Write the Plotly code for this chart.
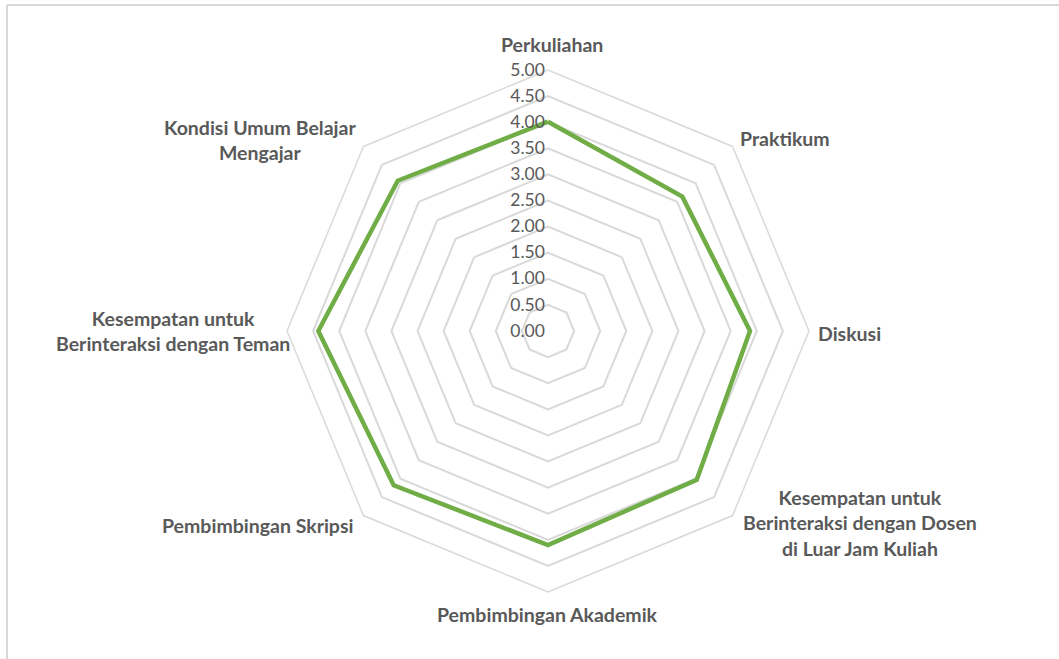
import plotly.graph_objects as go

categories = [
    "Perkuliahan",
    "Praktikum",
    "Diskusi",
    "Kesempatan untuk<br>Berinteraksi dengan Dosen<br>di Luar Jam Kuliah",
    "Pembimbingan Akademik",
    "Pembimbingan Skripsi",
    "Kesempatan untuk<br>Berinteraksi dengan Teman",
    "Kondisi Umum Belajar<br>Mengajar",
]
values = [4.01, 3.64, 3.87, 4.03, 4.10, 4.18, 4.40, 4.07]

W, H = 1059, 659
cx, cy, R = 548, 331, 261

# label centres (pixels) for the category names
label_pos = [(552, 44), (785, 138), (849, 333), (860, 523),
             (547, 614), (258, 525), (173, 331), (260, 140)]

fig = go.Figure()
fig.add_trace(go.Scatterpolar(
    r=values + values[:1],
    theta=categories + categories[:1],
    mode="lines",
    line=dict(color="#70AD47", width=4.5),
    hoverinfo="skip",
    showlegend=False,
))

grid = "#D9D9D9"
annotations = []
for name, (px, py) in zip(categories, label_pos):
    annotations.append(dict(
        text=name, x=px / W, y=1 - py / H, xref="paper", yref="paper",
        xanchor="center", yanchor="middle", align="center", showarrow=False,
        font=dict(family="Lato, sans-serif", size=19.5, color="#595959", weight="bold"),
    ))

fig.update_layout(
    width=W, height=H,
    margin=dict(l=0, r=0, t=0, b=0),
    paper_bgcolor="white",
    plot_bgcolor="white",
    font=dict(family="Lato, sans-serif", color="#595959"),
    polar=dict(
        domain=dict(x=[(cx - R) / W, (cx + R) / W], y=[(H - cy - R) / H, (H - cy + R) / H]),
        bgcolor="white",
        gridshape="linear",
        angularaxis=dict(
            rotation=90, direction="clockwise",
            showgrid=False, showline=True, linecolor=grid, linewidth=1.5,
            ticks="", showticklabels=False,
        ),
        radialaxis=dict(
            range=[0, 5], dtick=0.5, tickformat=".2f",
            angle=90, side="counterclockwise", tickangle=90,
            showline=False, ticks="",
            gridcolor=grid, gridwidth=1.5,
            tickfont=dict(size=17.5, color="#595959", family="Lato, sans-serif"),
        ),
    ),
    annotations=annotations,
    shapes=[
        dict(type="line", xref="paper", yref="paper", x0=7 / W, x1=1, y0=1 - 5 / H, y1=1 - 5 / H,
             line=dict(color="#D9D9D9", width=2)),
        dict(type="line", xref="paper", yref="paper", x0=7 / W, x1=7 / W, y0=0, y1=1 - 5 / H,
             line=dict(color="#D9D9D9", width=2)),
    ],
)

fig.write_html(
    "out.html",
    config={"displayModeBar": False},
    post_script="document.body.style.margin='0';document.body.style.overflow='hidden';",
)
